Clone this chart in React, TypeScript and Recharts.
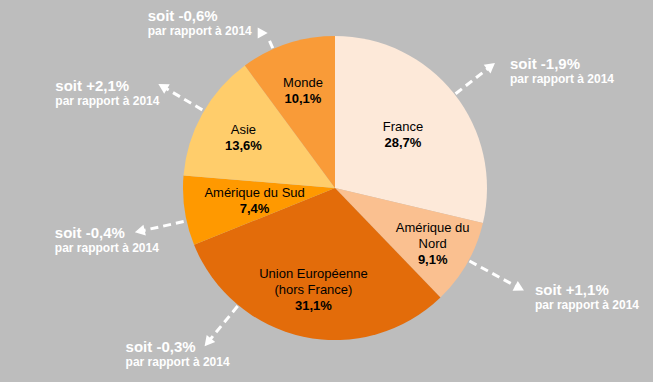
import React from 'react';
import { PieChart, Pie, Cell } from 'recharts';

if (typeof document !== 'undefined') {
  document.body.style.margin = '0';
}

const categories = ['France', 'Amérique du Nord', 'Union Européenne (hors France)', 'Amérique du Sud', 'Asie', 'Monde'];
const labelLines = [['France'], ['Amérique du', 'Nord'], ['Union Européenne', '(hors France)'], ['Amérique du Sud'], ['Asie'], ['Monde']];
const shares = [28.7, 9.1, 31.1, 7.4, 13.6, 10.1];
const changes = ['soit -1,9%', 'soit +1,1%', 'soit -0,3%', 'soit -0,4%', 'soit +2,1%', 'soit -0,6%'];
const subText = 'par rapport à 2014';

const colors = ['#FDE9D9', '#FAC090', '#E36C0A', '#FF9900', '#FFCD6B', '#F99B38'];
// label radius as fraction of outer radius
const labelRadius = [0.57, 0.74, 0.68, 0.535, 0.69, 0.675];
// annotation layout: arrow angle, tip distance beyond radius, text offset from tip
const annot = [
  { angle: 38, start: 1, len: 51, tdx: 15, tdy: 6 },
  { angle: -28.5, start: 1, len: 63, tdx: 11, tdy: 4 },
  { angle: -129.5, start: 1, len: 53, tdx: -79, tdy: 6 },
  { angle: 192.5, start: 3, len: 53, tdx: -80, tdy: 6 },
  { angle: 149.5, start: 2, len: 53, tdx: -103, tdy: 7 },
  { angle: 114, start: 1, len: 11, tdx: -120, tdy: -12, head: { dx: -1, dy: -6, dir: 0 } },
];

const data = categories.map((c, i) => ({ name: c, value: shares[i] }));

const RAD = Math.PI / 180;
const FONT = '"Liberation Sans", Arial, sans-serif';

const fmt = (v: number) => v.toFixed(1).replace('.', ',') + '%';

function Arrowhead({ x, y, dir }: { x: number; y: number; dir: number }) {
  // dir in degrees (math convention), tip at (x,y)
  const ux = Math.cos(dir * RAD);
  const uy = -Math.sin(dir * RAD);
  const px = -uy;
  const py = ux;
  const L = 10;
  const W = 5.5;
  const bx = x - ux * L;
  const by = y - uy * L;
  const pts = `${x},${y} ${bx + px * W},${by + py * W} ${bx - px * W},${by - py * W}`;
  return <polygon points={pts} fill="#FFFFFF" />;
}

const renderLabel = (props: any) => {
  const { cx, cy, midAngle, outerRadius, index, value } = props;
  const lines = labelLines[index];
  const r = outerRadius * labelRadius[index];
  const lx = cx + r * Math.cos(midAngle * RAD);
  const ly = cy - r * Math.sin(midAngle * RAD);
  const n = lines.length + 1;
  const lh = 16;
  const firstBase = ly - ((n - 1) * lh) / 2 + 4.7;

  const a = annot[index];
  const ca = Math.cos(a.angle * RAD);
  const sa = Math.sin(a.angle * RAD);
  const r0 = outerRadius + a.start;
  const r1 = outerRadius + a.len;
  const sx = cx + r0 * ca;
  const sy = cy - r0 * sa;
  const tx = cx + r1 * ca;
  const ty = cy - r1 * sa;
  let hx = tx;
  let hy = ty;
  let hdir = a.angle;
  let ex = tx - ca * 9;
  let ey = ty + sa * 9;
  if (a.head) {
    hx = tx + a.head.dx;
    hy = ty + a.head.dy;
    hdir = a.head.dir;
    ex = tx;
    ey = ty;
  }
  const textX = hx + a.tdx;
  const textY = hy + a.tdy;

  return (
    <g>
      <text textAnchor="middle" fontFamily={FONT} fontSize={13} fill="#000000">
        {lines.map((l: string, i: number) => (
          <tspan key={i} x={lx} y={firstBase + i * lh}>
            {l}
          </tspan>
        ))}
        <tspan x={lx} y={firstBase + lines.length * lh} fontWeight="bold">
          {fmt(value)}
        </tspan>
      </text>
      <line x1={sx} y1={sy} x2={ex} y2={ey} stroke="#FFFFFF" strokeWidth={3} strokeDasharray="8 5" />
      <Arrowhead x={hx} y={hy} dir={hdir} />
      <text fontFamily={FONT} fill="#FFFFFF" fontWeight="bold">
        <tspan x={textX} y={textY} fontSize={15}>
          {changes[index]}
        </tspan>
        <tspan x={textX} y={textY + 14} fontSize={12}>
          {subText}
        </tspan>
      </text>
    </g>
  );
};

export default function App() {
  return (
    <div style={{ width: 653, height: 382, background: '#BDBDBD' }}>
      <PieChart width={653} height={382} margin={{ top: 0, right: 0, bottom: 0, left: 0 }}>
        <Pie
          data={data}
          dataKey="value"
          nameKey="name"
          cx={335}
          cy={188}
          outerRadius={152}
          startAngle={90}
          endAngle={-270}
          stroke="none"
          label={renderLabel}
          labelLine={false}
          isAnimationActive={false}
        >
          {data.map((d, i) => (
            <Cell key={d.name} fill={colors[i]} />
          ))}
        </Pie>
      </PieChart>
    </div>
  );
}
